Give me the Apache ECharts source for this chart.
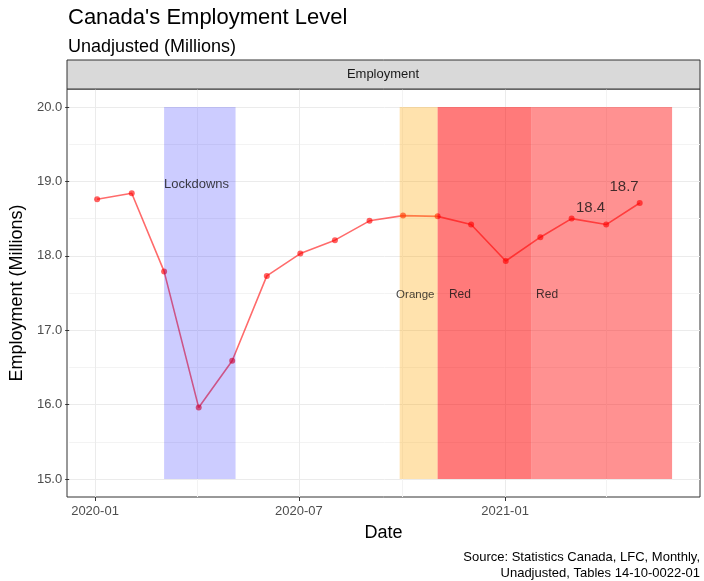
<!DOCTYPE html>
<html>
<head>
<meta charset="utf-8">
<title>Canada's Employment Level</title>
<script src="https://cdn.jsdelivr.net/npm/echarts@6/dist/echarts.min.js"></script>
<style>
  html, body { margin: 0; padding: 0; background: #fff; }
  #main { width: 704px; height: 581px; }
</style>
</head>
<body>
<div id="main"></div>
<script>
// monthly employment, millions (unadjusted)
var months = ['2020-01-01','2020-02-01','2020-03-01','2020-04-01','2020-05-01','2020-06-01',
  '2020-07-01','2020-08-01','2020-09-01','2020-10-01','2020-11-01','2020-12-01',
  '2021-01-01','2021-02-01','2021-03-01','2021-04-01','2021-05-01'];
var employment = [18.76, 18.84, 17.79, 15.96, 16.59, 17.73, 18.03, 18.21, 18.47,
  18.54, 18.53, 18.42, 17.93, 18.25, 18.50, 18.42, 18.71];

// x ticks
var majorTicks = ['2020-01-01', '2020-07-01', '2021-01-01'];
var minorTicks = ['2020-04-01', '2020-10-01', '2021-04-01'];

// shaded periods
var bandStart = ['2020-03-01', '2020-09-28', '2020-11-01', '2021-01-24'];
var bandEnd   = ['2020-05-04', '2020-11-01', '2021-01-24', '2021-05-30'];
var bandColor = ['rgba(0,0,255,0.2)', 'rgba(255,165,0,0.32)', 'rgba(255,0,0,0.52)', 'rgba(255,0,0,0.43)'];

// text annotations
var noteText = ['Lockdowns', 'Orange', 'Red', 'Red', '18.4', '18.7'];
var noteDate = ['2020-03-30', '2020-10-12', '2020-11-21', '2021-02-07', '2021-03-18', '2021-04-17'];
var noteY    = [18.96, 17.48, 17.48, 17.48, 18.64, 18.93];
var noteSize = [13, 11.5, 12, 12, 15, 15];

var FONT = '"Liberation Sans", Arial, sans-serif';

// dates -> ms (UTC)
function t(s){ return Date.parse(s); }
function fmtMonth(v){
  var d = new Date(v), m = d.getUTCMonth() + 1;
  return d.getUTCFullYear() + '-' + (m < 10 ? '0' + m : m);
}
var xMin = t('2019-12-07'), xMax = t('2021-06-24');

var chart = echarts.init(document.getElementById('main'));

var lineData = months.map(function(m, i){ return [t(m), employment[i]]; });

var bandAreas = bandStart.map(function(s, i){
  return [{ xAxis: t(s), itemStyle: { color: bandColor[i] } }, { xAxis: t(bandEnd[i]) }];
});

var notes = noteText.map(function(txt, i){
  return {
    value: [t(noteDate[i]), noteY[i]],
    label: { formatter: txt, fontSize: noteSize[i] }
  };
});

var option = {
  animation: false,
  textStyle: { fontFamily: FONT },
  title: [
    { text: "Canada's Employment Level", left: 63, top: 2,
      textStyle: { fontSize: 22, fontWeight: 'normal', color: '#000', fontFamily: FONT } },
    { text: 'Unadjusted (Millions)', left: 63, top: 33,
      textStyle: { fontSize: 18, fontWeight: 'normal', color: '#000', fontFamily: FONT } }
  ],
  graphic: [
    { type: 'rect', shape: { x: 67, y: 60, width: 633, height: 29 },
      style: { fill: '#d9d9d9', stroke: '#333', lineWidth: 1 }, z: 10 },
    { type: 'text', x: 383, y: 74, z: 11,
      style: { text: 'Employment', font: '13px ' + FONT, fill: '#1a1a1a',
        textAlign: 'center', textVerticalAlign: 'middle' } },
    { type: 'text', x: 700, y: 549, z: 11,
      style: { text: 'Source: Statistics Canada, LFC, Monthly,\nUnadjusted, Tables 14-10-0022-01',
        font: '13px ' + FONT, fill: '#000', textAlign: 'right', lineHeight: 16 } }
  ],
  grid: [
    { left: 67, right: 4, top: 89, bottom: 84, show: true,
      borderColor: '#333', borderWidth: 1, backgroundColor: '#fff' },
    { left: 67, right: 4, top: 107, bottom: 102 }
  ],
  xAxis: [
    { type: 'value', gridIndex: 0, min: xMin, max: xMax,
      name: 'Date', nameLocation: 'middle', nameGap: 27,
      nameTextStyle: { fontSize: 18, color: '#000', fontFamily: FONT },
      axisLine: { show: false },
      axisTick: { show: true, length: 4, customValues: majorTicks.map(t),
        lineStyle: { color: '#333' } },
      axisLabel: { customValues: majorTicks.map(t), margin: 8, fontSize: 13, color: '#4d4d4d',
        showMinLabel: true, showMaxLabel: true, formatter: fmtMonth },
      splitLine: { show: false }
    },
    { type: 'value', gridIndex: 1, min: xMin, max: xMax, show: false }
  ],
  yAxis: [
    { type: 'value', gridIndex: 0, min: 0, max: 1, show: false },
    { type: 'value', gridIndex: 1, min: 15, max: 20, interval: 1,
      name: 'Employment (Millions)', nameLocation: 'middle', nameGap: 41,
      nameTextStyle: { fontSize: 18, color: '#000', fontFamily: FONT },
      axisLine: { show: false },
      axisTick: { show: true, length: 4, lineStyle: { color: '#333' } },
      axisLabel: { margin: 7, fontSize: 13, color: '#4d4d4d',
        formatter: function(v){ return v.toFixed(1); } },
      splitLine: { show: true, lineStyle: { color: '#ebebeb', width: 1 } },
      minorSplitLine: { show: true, lineStyle: { color: '#f3f3f3', width: 1 } },
      minorTick: { show: false, splitNumber: 2 }
    }
  ],
  series: [
    { // vertical grid lines (major + minor), kept underneath everything
      type: 'line', xAxisIndex: 0, yAxisIndex: 0, data: [], silent: true, z: 0,
      markLine: { silent: true, z: 0, symbol: 'none', label: { show: false }, animation: false,
        data: majorTicks.map(function(s){
          return { xAxis: t(s), lineStyle: { color: '#ebebeb', width: 1, type: 'solid' } };
        }).concat(minorTicks.map(function(s){
          return { xAxis: t(s), lineStyle: { color: '#f3f3f3', width: 1, type: 'solid' } };
        })) }
    },
    {
      name: 'Employment', type: 'line', xAxisIndex: 1, yAxisIndex: 1, z: 2,
      data: lineData, symbol: 'circle', symbolSize: 6, showSymbol: true,
      lineStyle: { color: 'rgba(255,0,0,0.58)', width: 1.6 },
      itemStyle: { color: 'rgba(255,0,0,0.62)', borderWidth: 0 }
    },
    { // shaded periods drawn over the line
      type: 'line', xAxisIndex: 1, yAxisIndex: 1, data: [], z: 5, silent: true,
      markArea: { silent: true, z: 5, data: bandAreas }
    },
    { // text annotations
      type: 'scatter', xAxisIndex: 1, yAxisIndex: 1, z: 8, silent: true,
      symbolSize: 0, data: notes,
      label: { show: true, position: 'inside', color: '#111', fontFamily: FONT }
    }
  ]
};

chart.setOption(option);
</script>
</body>
</html>
